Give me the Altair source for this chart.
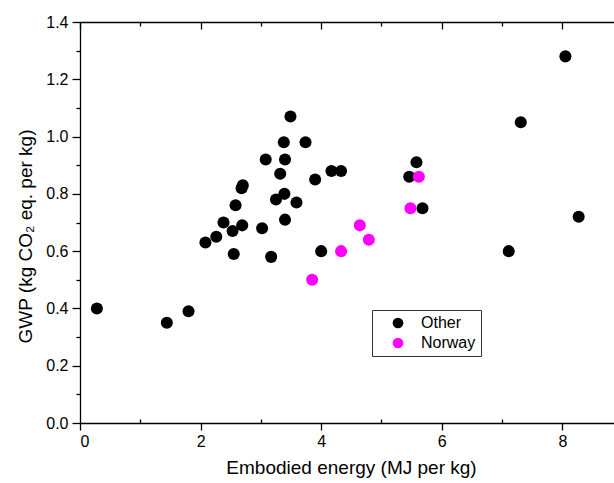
import altair as alt
import pandas as pd

other_x = [0.28, 1.44, 1.80, 2.08, 2.26, 2.38, 2.53, 2.58, 2.55, 2.68, 2.70, 2.69,
           3.02, 3.08, 3.17, 3.25, 3.39, 3.32, 3.38, 3.40, 3.40, 3.49, 3.59, 3.74,
           3.90, 4.00, 4.17, 4.33, 5.46, 5.58, 5.68, 7.11, 7.31, 8.05, 8.27]
other_y = [0.40, 0.35, 0.39, 0.63, 0.65, 0.70, 0.67, 0.76, 0.59, 0.82, 0.83, 0.69,
           0.68, 0.92, 0.58, 0.78, 0.80, 0.87, 0.98, 0.92, 0.71, 1.07, 0.77, 0.98,
           0.85, 0.60, 0.88, 0.88, 0.86, 0.91, 0.75, 0.60, 1.05, 1.28, 0.72]
norway_x = [3.85, 4.33, 4.64, 4.79, 5.48, 5.62]
norway_y = [0.50, 0.60, 0.69, 0.64, 0.75, 0.86]

groups = ["Other", "Norway"]
colors = ["#000000", "#ff00ff"]
x_major = [0, 2, 4, 6, 8]
x_minor = [1, 3, 5, 7]
y_major = [0.0, 0.2, 0.4, 0.6, 0.8, 1.0, 1.2, 1.4]
y_minor = [0.1, 0.3, 0.5, 0.7, 0.9, 1.1, 1.3]

df = pd.DataFrame({
    "energy": other_x + norway_x,
    "gwp": other_y + norway_y,
    "group": ["Other"] * len(other_x) + ["Norway"] * len(norway_x),
})

xs = alt.Scale(domain=[0, 8.856], nice=False, zero=False)
ys = alt.Scale(domain=[0, 1.4], nice=False)
FONT = "Liberation Sans"

base = alt.Chart(df)

points = base.mark_circle(size=145, opacity=1).encode(
    x=alt.X("energy:Q", scale=xs, axis=alt.Axis(
        orient="bottom", values=x_major, tickSize=7, labelPadding=3,
        title="Embodied energy (MJ per kg)", titlePadding=9, titleX=271,
        format="d")),
    y=alt.Y("gwp:Q", scale=ys, axis=alt.Axis(
        orient="left", values=y_major, tickSize=8, labelPadding=4,
        format=".1f", title="GWP (kg CO\u2082 eq. per kg)", titlePadding=10,
        titleY=214)),
    color=alt.Color("group:N", scale=alt.Scale(domain=groups, range=colors),
                    legend=alt.Legend(
                        title=None, orient="none", legendX=292, legendY=288,
                        strokeColor="#333333", padding=5, symbolSize=115,
                        symbolType="circle", symbolOffset=13, labelOffset=15,
                        labelFontSize=16, labelFont=FONT, rowPadding=4,
                        symbolStrokeWidth=0, labelColor="#000000")),
)

minor = base.mark_point(opacity=0).encode(
    x=alt.X("energy:Q", scale=xs, axis=alt.Axis(
        orient="bottom", values=x_minor, tickSize=4, offset=-4, domain=False,
        labels=False, title=None)),
    y=alt.Y("gwp:Q", scale=ys, axis=alt.Axis(
        orient="left", values=y_minor, tickSize=4, domain=False,
        labels=False, title=None)),
)

top_line = base.mark_point(opacity=0).encode(
    x=alt.X("energy:Q", scale=xs, axis=alt.Axis(
        orient="top", ticks=False, labels=False, title=None, domain=True)),
    y=alt.Y("gwp:Q", scale=ys, axis=None),
)

top_major = base.mark_point(opacity=0).encode(
    x=alt.X("energy:Q", scale=xs, axis=alt.Axis(
        orient="top", values=x_major, tickSize=7, offset=-7, domain=False,
        labels=False, title=None)),
    y=alt.Y("gwp:Q", scale=ys, axis=None),
)

top_minor = base.mark_point(opacity=0).encode(
    x=alt.X("energy:Q", scale=xs, axis=alt.Axis(
        orient="top", values=x_minor, tickSize=4, offset=-4, domain=False,
        labels=False, title=None)),
    y=alt.Y("gwp:Q", scale=ys, axis=None),
)

chart = alt.layer(points, minor, top_line, top_major, top_minor).resolve_axis(
    x="independent", y="independent"
).properties(
    width=534, height=401,
    autosize=alt.AutoSizeParams(type="none"),
    padding={"left": 80, "top": 22, "right": 0, "bottom": 60},
    background="white",
).configure_view(
    stroke=None
).configure_axis(
    grid=False, domainColor="#000000", domainWidth=1.3, tickColor="#000000",
    tickWidth=1.3, labelFont=FONT, labelFontSize=16, labelColor="#000000",
    titleFont=FONT, titleFontSize=19, titleFontWeight="normal",
    titleColor="#000000",
)

chart.save("out.html", embed_options={"renderer": "svg", "actions": False})
